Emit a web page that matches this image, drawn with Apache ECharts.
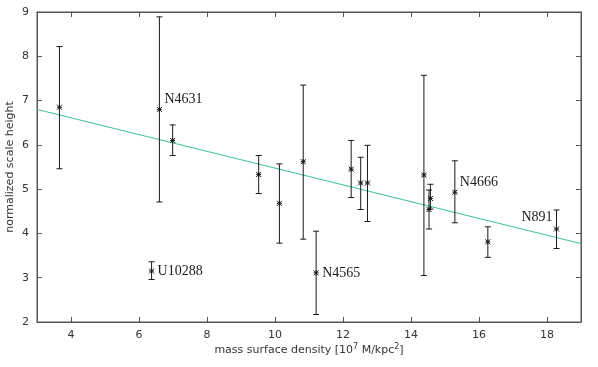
<!DOCTYPE html>
<html>
<head>
<meta charset="utf-8">
<script src="https://cdn.jsdelivr.net/npm/echarts@6/dist/echarts.min.js"></script>
<style>
  html, body { margin: 0; padding: 0; background: #fff; }
  #chart { width: 598px; height: 367px; }
</style>
</head>
<body>
<div id="chart"></div>
<script>
// galaxies, sorted by mass surface density
const surfDensity = [3.66, 6.37, 6.60, 6.99, 9.52, 10.13, 10.83, 11.21, 12.24, 12.52, 12.72, 14.38, 14.53, 14.57, 15.29, 16.26, 18.28]
const scaleHeight = [6.85, 3.15, 6.80, 6.10, 5.33, 4.68, 5.62, 3.11, 5.45, 5.14, 5.14, 5.32, 4.54, 4.79, 4.93, 3.81, 4.10]
const errLow      = [5.46, 2.96, 4.71, 5.76, 4.90, 3.78, 3.87, 2.17, 4.81, 4.54, 4.27, 3.05, 4.10, 4.55, 4.24, 3.46, 3.66]
const errHigh     = [8.22, 3.36, 8.89, 6.45, 5.76, 5.57, 7.35, 4.05, 6.10, 5.72, 5.99, 7.57, 4.98, 5.11, 5.64, 4.15, 4.53]
const galaxyNames = ['', 'U10288', 'N4631', '', '', '', '', 'N4565', '', '', '', '', '', '', 'N4666', '', 'N891']

// linear fit, read at the plot edges
const fitX = [3, 19]
const fitY = [6.80, 3.77]

const xTicks = [4, 6, 8, 10, 12, 14, 16, 18]

// label placement (pixels from the point)
const labelOffset = {
  N4631: [5, -10, 'left'],
  U10288: [6, 0, 'left'],
  N4565: [6, 0, 'left'],
  N4666: [5, -10, 'left'],
  N891: [-4, -12, 'right'],
}

const chart = echarts.init(document.getElementById('chart'))

const frame = '#555'
const ink = '#1a1a1a'

function renderItem(params, api) {
  const x = api.value(0)
  const p = api.coord([x, api.value(1)])
  const lo = api.coord([x, api.value(2)])
  const hi = api.coord([x, api.value(3)])
  const cap = 3
  const s = 2.5
  const st = { stroke: ink, lineWidth: 1 }
  const children = [
    { type: 'line', shape: { x1: lo[0], y1: lo[1], x2: hi[0], y2: hi[1] }, style: st },
    { type: 'line', shape: { x1: lo[0] - cap, y1: lo[1], x2: lo[0] + cap, y2: lo[1] }, style: st },
    { type: 'line', shape: { x1: hi[0] - cap, y1: hi[1], x2: hi[0] + cap, y2: hi[1] }, style: st },
    // asterisk marker
    { type: 'line', shape: { x1: p[0] - s, y1: p[1], x2: p[0] + s, y2: p[1] }, style: st },
    { type: 'line', shape: { x1: p[0], y1: p[1] - s, x2: p[0], y2: p[1] + s }, style: st },
    { type: 'line', shape: { x1: p[0] - s, y1: p[1] - s, x2: p[0] + s, y2: p[1] + s }, style: st },
    { type: 'line', shape: { x1: p[0] - s, y1: p[1] + s, x2: p[0] + s, y2: p[1] - s }, style: st },
  ]
  const name = galaxyNames[api.value(4)]
  if (name) {
    const off = labelOffset[name]
    children.push({
      type: 'text',
      style: {
        x: p[0] + off[0],
        y: p[1] + off[1],
        text: name,
        fill: ink,
        font: '14px "Liberation Serif", "DejaVu Serif", serif',
        align: off[2],
        verticalAlign: 'middle',
      },
    })
  }
  return { type: 'group', children: children }
}

const errData = surfDensity.map((x, i) => [x, scaleHeight[i], errLow[i], errHigh[i], i])

const axisFont = { fontFamily: 'DejaVu Sans', fontSize: 11, color: '#333' }

const option = {
  animation: false,
  grid: { left: 37, right: 17, top: 12, bottom: 45, show: true, borderColor: frame, borderWidth: 1, outerBoundsMode: 'none', containLabel: false },
  xAxis: [
    {
      type: 'value',
      min: 3,
      max: 19,
      position: 'bottom',
      name: 'mass surface density [10{sup|7} M/kpc{sup|2}]',
      nameLocation: 'middle',
      nameGap: 21,
      nameMoveOverlap: false,
      nameTextStyle: {
        fontFamily: 'DejaVu Sans',
        fontSize: 11,
        color: '#333',
        rich: { sup: { fontFamily: 'DejaVu Sans', fontSize: 8, color: '#333', verticalAlign: 'top', padding: [0, 0, 6, 0] } },
      },
      axisLine: { show: true, lineStyle: { color: frame } },
      axisTick: { show: true, inside: true, length: 5, customValues: xTicks, lineStyle: { color: frame } },
      axisLabel: Object.assign({ customValues: xTicks, margin: 8 }, axisFont),
      splitLine: { show: false },
    },
    {
      type: 'value',
      min: 3,
      max: 19,
      position: 'top',
      axisLine: { show: true, lineStyle: { color: frame } },
      axisTick: { show: true, inside: true, length: 5, customValues: xTicks, lineStyle: { color: frame } },
      axisLabel: { show: false },
      splitLine: { show: false },
    },
  ],
  yAxis: [
    {
      type: 'value',
      min: 2,
      max: 9,
      interval: 1,
      position: 'left',
      name: 'normalized scale height',
      nameLocation: 'middle',
      nameGap: 21,
      nameMoveOverlap: false,
      nameTextStyle: { fontFamily: 'DejaVu Sans', fontSize: 11, color: '#333' },
      axisLine: { show: true, lineStyle: { color: frame } },
      axisTick: { show: true, inside: true, length: 5, lineStyle: { color: frame } },
      axisLabel: Object.assign({ margin: 8 }, axisFont),
      splitLine: { show: false },
    },
    {
      type: 'value',
      min: 2,
      max: 9,
      interval: 1,
      position: 'right',
      axisLine: { show: true, lineStyle: { color: frame } },
      axisTick: { show: true, inside: true, length: 5, lineStyle: { color: frame } },
      axisLabel: { show: false },
      splitLine: { show: false },
    },
  ],
  series: [
    {
      type: 'line',
      data: fitX.map((x, i) => [x, fitY[i]]),
      symbol: 'none',
      lineStyle: { color: '#3dbf9c', width: 1 },
      silent: true,
      z: 2,
    },
    {
      type: 'custom',
      data: errData,
      renderItem: renderItem,
      encode: { x: 0, y: 1 },
      clip: false,
      z: 3,
    },
  ],
}

chart.setOption(option)
</script>
</body>
</html>
